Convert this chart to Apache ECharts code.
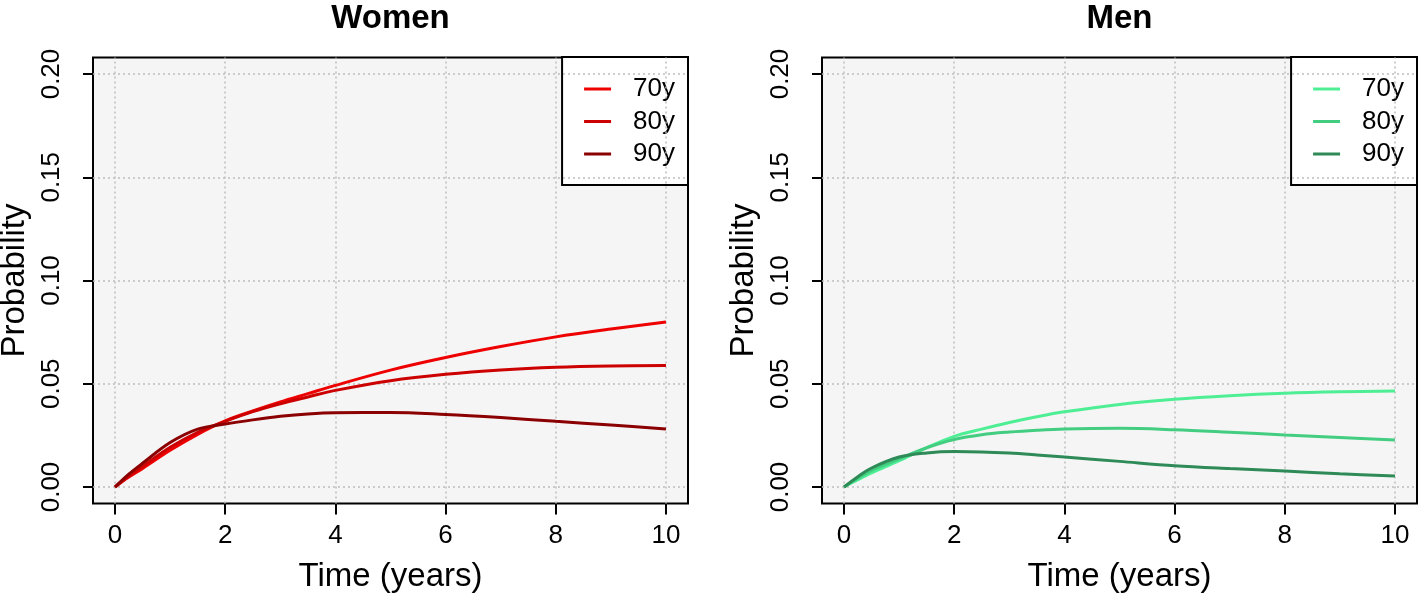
<!DOCTYPE html>
<html>
<head>
<meta charset="utf-8">
<script src="https://cdn.jsdelivr.net/npm/echarts@6/dist/echarts.min.js"></script>
<style>
html,body{margin:0;padding:0;background:#fff;}
#chart{width:1418px;height:593px;}
</style>
</head>
<body>
<div id="chart"></div>
<script>
// ---- data ----
const years   = [0, 0.25, 0.5, 1, 1.5, 2, 2.5, 3, 3.5, 4, 5, 6, 7, 8, 9, 10];
const women70 = [0, 0.0048, 0.0090, 0.0178, 0.0255, 0.0320, 0.0368, 0.0412, 0.0452, 0.0492, 0.0566, 0.0627, 0.0680, 0.0727, 0.0765, 0.0799];
const women80 = [0, 0.0053, 0.0100, 0.0192, 0.0265, 0.0318, 0.0365, 0.0403, 0.0436, 0.0468, 0.0515, 0.0546, 0.0567, 0.0580, 0.0586, 0.0588];
const women90 = [0, 0.0062, 0.0115, 0.0215, 0.0280, 0.0305, 0.0325, 0.0342, 0.0354, 0.0360, 0.0361, 0.0351, 0.0336, 0.0318, 0.0300, 0.0281];
const men70   = [0, 0.0035, 0.0068, 0.0127, 0.0190, 0.0245, 0.0280, 0.0312, 0.0340, 0.0364, 0.0400, 0.0425, 0.0442, 0.0454, 0.0461, 0.0465];
const men80   = [0, 0.0042, 0.0080, 0.0136, 0.0190, 0.0230, 0.0253, 0.0266, 0.0275, 0.0281, 0.0284, 0.0277, 0.0265, 0.0252, 0.0240, 0.0228];
const men90   = [0, 0.0050, 0.0092, 0.0145, 0.0165, 0.0172, 0.0170, 0.0164, 0.0155, 0.0145, 0.0124, 0.0103, 0.0089, 0.0077, 0.0064, 0.0053];
const ageLabels = ['70y', '80y', '90y'];
const panelTitles = ['Women', 'Men'];
const xTicks = [0, 2, 4, 6, 8, 10];
const yTicks = [0, 0.05, 0.10, 0.15, 0.20];
const xTitle = 'Time (years)';
const yTitle = 'Probability';

const womenColors = ['#EE0000', '#CD0000', '#8B0000'];
const menColors   = ['#4EEE94', '#43CD80', '#2E8B57'];

const FONT = '"Liberation Sans", Arial, Helvetica, sans-serif';
const pair = arr => years.map((t, i) => [t, arr[i]]);

const panels = [
  {title: panelTitles[0], left: 93, data: [women70, women80, women90], colors: womenColors, prefix: 'W'},
  {title: panelTitles[1], left: 822, data: [men70, men80, men90], colors: menColors, prefix: 'M'}
];
const W = 595, TOP = 57.5, H = 446;

const grids = [], xAxes = [], yAxes = [], series = [], titles = [], legends = [];
panels.forEach((p, k) => {
  grids.push({left: p.left, top: TOP, width: W, height: H, show: true, containLabel: false,
    outerBoundsMode: 'none',
    backgroundColor: '#F5F5F5', borderColor: '#000', borderWidth: 2});
  xAxes.push({type: 'value', gridIndex: k, min: -0.4, max: 10.4,
    name: xTitle, nameLocation: 'middle', nameGap: 57,
    nameTextStyle: {fontFamily: FONT, fontSize: 33, color: '#000', verticalAlign: 'top'},
    axisLine: {show: false, onZero: false},
    axisTick: {show: true, customValues: xTicks, length: 11, lineStyle: {color: '#000', width: 2}},
    axisLabel: {customValues: xTicks, margin: 19, fontFamily: FONT, fontSize: 26, color: '#000', verticalAlign: 'top'},
    splitLine: {show: false}});
  yAxes.push({type: 'value', gridIndex: k, min: -0.008, max: 0.208,
    name: yTitle, nameLocation: 'middle', nameGap: 62, nameRotate: 90,
    nameTextStyle: {fontFamily: FONT, fontSize: 33, color: '#000', align: 'center', verticalAlign: 'bottom'},
    axisLine: {show: false, onZero: false},
    axisTick: {show: true, customValues: yTicks, length: 10, lineStyle: {color: '#000', width: 2}},
    axisLabel: {customValues: yTicks, rotate: 90, margin: 28, align: 'center', verticalAlign: 'bottom',
      fontFamily: FONT, fontSize: 26, color: '#000', formatter: v => v.toFixed(2)},
    splitLine: {show: false}});
  // dotted reference grid, placed at the tick values through the axes
  series.push({type: 'line', name: 'grid' + k, xAxisIndex: k, yAxisIndex: k, data: [], z: 1, silent: true,
    markLine: {symbol: 'none', silent: true, animation: false, label: {show: false},
      lineStyle: {type: [2, 3], color: '#BDBDBD', width: 1.5},
      emphasis: {disabled: true},
      data: xTicks.map(v => ({xAxis: v})).concat(yTicks.map(v => ({yAxis: v})))}});
  p.data.forEach((arr, j) => {
    series.push({type: 'line', name: p.prefix + ageLabels[j], xAxisIndex: k, yAxisIndex: k,
      data: pair(arr), smooth: 0.35, symbol: 'none', showSymbol: false, z: 5,
      color: p.colors[j], lineStyle: {color: p.colors[j], width: 3}, emphasis: {disabled: true}});
  });
  titles.push({text: p.title, left: p.left + W / 2, top: 2, textAlign: 'center', padding: 0,
    textStyle: {fontFamily: FONT, fontSize: 33, fontWeight: 'bold', color: '#000'}});
  legends.push({orient: 'vertical', right: 1418 - (p.left + W), top: 57,
    data: ageLabels.map(a => p.prefix + a),
    formatter: name => name.slice(1),
    icon: 'path://M0,0L27,0L27,3L0,3Z', symbolKeepAspect: true,
    backgroundColor: '#fff', borderColor: '#000', borderWidth: 2, borderRadius: 0,
    padding: [19, 13, 18, 22], itemWidth: 27, itemHeight: 26, itemGap: 6.5,
    selectedMode: false,
    textStyle: {fontFamily: FONT, fontSize: 26, color: '#000', padding: [0, 0, 0, 17]}});
});

const chart = echarts.init(document.getElementById('chart'), null, {renderer: 'canvas'});
chart.setOption({
  animation: false,
  backgroundColor: '#fff',
  title: titles,
  legend: legends,
  grid: grids,
  xAxis: xAxes,
  yAxis: yAxes,
  series: series
});
</script>
</body>
</html>
